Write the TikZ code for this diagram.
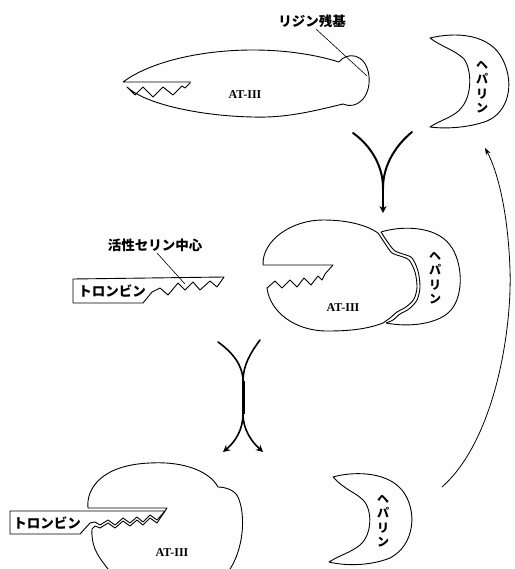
\documentclass[tikz,border=0pt]{standalone}
\usepackage{fontspec}
\setmainfont{Liberation Serif}
\newfontfamily\jpfont{Noto Sans CJK JP}
\usetikzlibrary{arrows.meta}

\begin{document}
\begin{tikzpicture}[x=1pt,y=-1pt,
  outline/.style={line width=0.9pt, line join=round},
  jplabel/.style={font=\jpfont\bfseries\fontsize{13.5}{14}\selectfont, inner sep=0pt},
  vlabel/.style={font=\jpfont\bfseries\fontsize{12}{14.5}\selectfont, align=center, inner sep=0pt},
  atlabel/.style={font=\bfseries\fontsize{12}{14}\selectfont, inner sep=0pt},
  leader/.style={line width=0.6pt},
  branch/.style={line width=2pt, line cap=round},
  stem/.style={line width=3pt},
  bigtip/.style={-{Stealth[length=7pt,width=7pt]}},
  thintip/.style={line width=0.8pt, -{Stealth[length=7pt,width=5pt]}}
]
\useasboundingbox (0,0) rectangle (514,569);
\clip (0,0) rectangle (514,569);

% ---------- AT-III with its lysine residue ----------
\draw[outline] (191,82) -- (123,82)
  .. controls (150,62) and (200,50) .. (253,50)
  .. controls (290,50) and (320,56) .. (339,62)
  .. controls (346,52) and (366,52) .. (369,76)
  .. controls (371,98) and (356,110) .. (343,104)
  .. controls (310,112) and (285,118) .. (253,117)
  .. controls (200,116) and (145,104) .. (127,87)
  -- (135,95) -- (143,87) -- (153,97) -- (163,87) -- (173,95)
  -- (182,86) -- (185,88) -- (190,83);
\node[atlabel] (at1) at (245,95) {AT-III};
\node[jplabel] (lys) at (312,21) {リジン残基};
\coordinate (lysstart) at (316,29);
\coordinate (lysend) at (367,76);
\draw[leader] (lysstart) -- (lysend);

% ---------- heparin, free ----------
\draw[outline] (430,38) .. controls (455,32) and (490,33) .. (503,60)
  .. controls (515,85) and (508,112) .. (487,121)
  .. controls (468,128) and (445,129) .. (430,127)
  .. controls (440,120) and (455,117) .. (462,107)
  .. controls (472,95) and (472,70) .. (464,59)
  .. controls (455,50) and (440,46) .. (430,38) -- cycle;
\node[vlabel] (hep1) at (482,87) {ヘ\\パ\\リ\\ン};

% ---------- binding arrow ----------
\coordinate (ya) at (353,133);
\coordinate (yb) at (412,132);
\coordinate (yj) at (383,188);
\coordinate (yt) at (383,213);
\draw[branch] (ya) .. controls (370,145) and (383,165) .. (yj);
\draw[branch] (yb) .. controls (396,145) and (383,165) .. (yj);
\draw[line width=2.4pt, bigtip] (yj) -- (yt);

% ---------- thrombin with active serine centre ----------
\draw[outline] (73,279) -- (224,277) -- (217,287) -- (210,281) -- (200,290)
  -- (193,282) -- (185,290) -- (178,283) -- (168,295) -- (160,288)
  -- (152,292) -- (143,303) -- (73,303) -- cycle;
\node[jplabel] (thr1) at (112,291) {トロンビン};
\node[jplabel] (ser) at (155,245) {活性セリン中心};
\coordinate (serend) at (185,284);
\coordinate (serstart) at (157,253);
\draw[leader] (serstart) -- (serend);

% ---------- AT-III / heparin complex ----------
\draw[outline] (333,265) -- (263,265)
  .. controls (262,240) and (292,220) .. (323,220)
  .. controls (350,220) and (368,226) .. (378,233);
\draw[outline] (383,323) .. controls (365,330) and (345,331) .. (327,331)
  .. controls (295,331) and (270,312) .. (267,288)
  -- (275,281) -- (282,288) -- (290,280) -- (297,287) -- (304,278)
  -- (311,285) -- (318,276) -- (322,280) -- (325,274) -- (333,265);
% shared interface, drawn once for each partner
\draw[outline] plot[smooth] coordinates {(378,233) (386,245) (392,253) (400,256)
  (409,260) (415,272) (417,287) (414,299) (406,307) (397,312) (390,318) (383,323)};
\draw[outline] plot[smooth] coordinates {(381,232) (389,244) (395,251) (403,254)
  (412,258) (418,271) (420,287) (417,300) (409,309) (400,314) (393,320) (386,323)};
\draw[outline] (381,232) .. controls (400,226) and (435,225) .. (450,245)
  .. controls (463,262) and (464,295) .. (451,310)
  .. controls (440,323) and (412,328) .. (386,323);
\node[atlabel] (at2) at (343,308) {AT-III};
\node[vlabel] (hep2) at (435,278) {ヘ\\パ\\リ\\ン};

% ---------- reaction arrow ----------
\coordinate (xa) at (218,342);
\coordinate (xb) at (260,340);
\coordinate (xj) at (243,381);
\coordinate (xk) at (243,414);
\coordinate (xl) at (223,452);
\coordinate (xr) at (263,452);
\draw[branch, line width=1.6pt] (xa) .. controls (232,352) and (243,365) .. (xj);
\draw[branch, line width=1.6pt] (xb) .. controls (251,352) and (243,365) .. (xj);
\draw[stem] (xj) -- (xk);
\draw[line width=1.6pt, bigtip] (xk) .. controls (243,430) and (235,442) .. (xl);
\draw[line width=1.6pt, bigtip] (xk) .. controls (243,430) and (252,442) .. (xr);

% ---------- thrombin / AT-III complex ----------
\draw[outline] (167,508) -- (88,508)
  .. controls (86,490) and (100,465) .. (150,463)
  .. controls (185,461) and (210,472) .. (218,487)
  .. controls (225,487) and (235,490) .. (238,497)
  .. controls (246,515) and (244,550) .. (228,572)
  .. controls (200,600) and (120,590) .. (105,565)
  .. controls (97,555) and (91,545) .. (92,529)
  -- (95,526) -- (100,528) -- (108,523) -- (115,528) -- (123,521)
  -- (130,526) -- (137,520) -- (143,525) -- (150,518) -- (157,523) -- (167,508);
\draw[outline] (10,511) -- (165,511) -- (157,520) -- (150,515) -- (143,522)
  -- (137,517) -- (130,523) -- (123,518) -- (115,525) -- (108,520)
  -- (100,525) -- (95,522) -- (90,523) -- (80,534) -- (10,534) -- cycle;
\node[jplabel] (thr2) at (47,523) {トロンビン};
\node[atlabel] (at3) at (172,553) {AT-III};

% ---------- released heparin ----------
\draw[outline] (333,477) .. controls (350,472) and (385,470) .. (402,490)
  .. controls (418,510) and (415,545) .. (390,558)
  .. controls (370,566) and (345,566) .. (329,562)
  .. controls (340,555) and (350,553) .. (360,545)
  .. controls (372,535) and (373,510) .. (363,500)
  .. controls (355,492) and (345,490) .. (333,477) -- cycle;
\node[vlabel] (hep3) at (383,521) {ヘ\\パ\\リ\\ン};

% ---------- recycling arrow ----------
\coordinate (ra) at (442,487);
\coordinate (rb) at (485,148);
\draw[thintip] (ra) .. controls (495,440) and (512,330) .. (510,270)
  .. controls (508,210) and (497,170) .. (rb);
\end{tikzpicture}
\end{document}
